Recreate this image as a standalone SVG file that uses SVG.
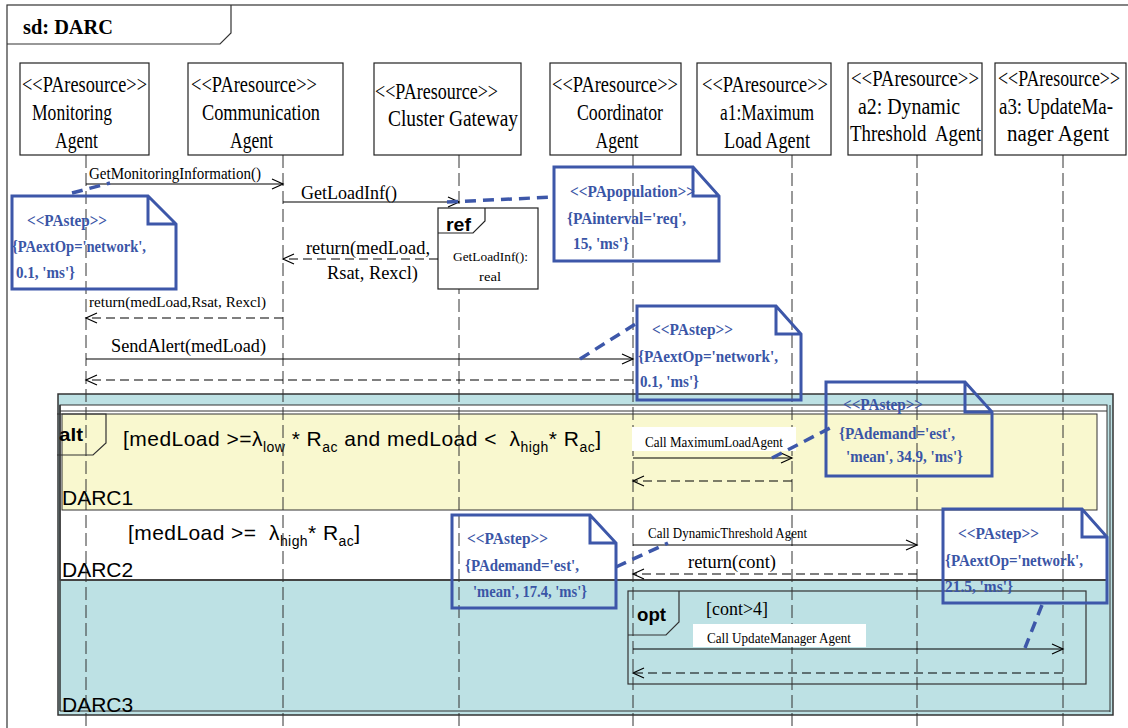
<svg xmlns="http://www.w3.org/2000/svg" width="1128" height="728" viewBox="0 0 1128 728">
<style>
.box{fill:#fff;stroke:#222;stroke-width:1.2}
.lbl{font-family:"Liberation Serif",serif;font-size:23px;fill:#000}
.msg{font-family:"Liberation Serif",serif;fill:#000}
.note{fill:none;stroke:#3d57a9;stroke-width:3}
.nt{font-family:"Liberation Serif",serif;font-weight:bold;font-size:17px;fill:#3a55a6}
.life{stroke:#333;stroke-width:1;stroke-dasharray:13 5;fill:none}
.sync{stroke:#000;stroke-width:1.1;fill:none}
.ret{stroke:#000;stroke-width:1.1;stroke-dasharray:9 5;fill:none}
.link{stroke:#3d57a9;stroke-width:3.5;stroke-dasharray:11 7;fill:none}
.sans{font-family:"Liberation Sans",Arial,sans-serif;fill:#000}
.frm{fill:none;stroke:#333;stroke-width:1.2}
</style>
<defs>
<marker id="arr" markerUnits="userSpaceOnUse" markerWidth="14" markerHeight="12" refX="12" refY="6" orient="auto">
<path d="M1,1 L12,6 L1,11" fill="none" stroke="#000" stroke-width="1.2"/>
</marker>
</defs>
<rect width="1128" height="728" fill="#fff"/>
<g id="frame">
<rect x="7" y="5" width="1128" height="740" class="frm" stroke-width="1.5"/>
<path d="M7,44 L220,44 L231,33 L231,5" class="frm"/>
<text x="23" y="34" font-family="Liberation Serif,serif" font-weight="bold" font-size="20" textLength="90" lengthAdjust="spacingAndGlyphs">sd: DARC</text>
</g>
<g id="alt">
<rect x="58" y="394" width="1055" height="321" fill="#bde1e4" stroke="#333" stroke-width="1.5"/>
<rect x="60" y="405" width="1047" height="175" fill="#fff" stroke="#333" stroke-width="1"/>
<line x1="60" y1="411" x2="1107" y2="411" stroke="#333" stroke-width="1"/>
<line x1="1110" y1="405" x2="1110" y2="712" stroke="#333" stroke-width="1"/>
<line x1="60" y1="711" x2="1110" y2="711" stroke="#333" stroke-width="1"/>
<line x1="60" y1="405" x2="60" y2="711" stroke="#333" stroke-width="1.5"/>
<rect x="62" y="414" width="1035" height="96" fill="#f9f8cf" stroke="#333" stroke-width="1"/>
<line x1="60" y1="580" x2="1107" y2="580" stroke="#444" stroke-width="2"/>
<path d="M57,414 L106,414 L106,443 L93,455 L57,455" fill="none" stroke="#333" stroke-width="1.2"/>
<text x="59" y="441" class="sans" font-weight="bold" font-size="19" textLength="24" lengthAdjust="spacingAndGlyphs">alt</text>
<text x="123" y="446" class="sans" font-size="21" xml:space="preserve" textLength="478">[medLoad &gt;=λ<tspan font-size="14" dy="6">low</tspan><tspan dy="-6"> * R</tspan><tspan font-size="14" dy="6">ac</tspan><tspan dy="-6"> and medLoad &lt;  λ</tspan><tspan font-size="14" dy="6">high</tspan><tspan dy="-6">* R</tspan><tspan font-size="14" dy="6">ac</tspan><tspan dy="-6">]</tspan></text>
<text x="62" y="505" class="sans" font-size="21">DARC1</text>
<text x="128" y="540" class="sans" font-size="21" xml:space="preserve" textLength="232">[medLoad &gt;=  λ<tspan font-size="14" dy="6">high</tspan><tspan dy="-6">* R</tspan><tspan font-size="14" dy="6">ac</tspan><tspan dy="-6">]</tspan></text>
<text x="62" y="577" class="sans" font-size="21">DARC2</text>
<text x="62" y="712" class="sans" font-size="21">DARC3</text>
</g>
<g id="lifelines">
<line x1="86" y1="155" x2="86" y2="728" class="life"/>
<line x1="283" y1="155" x2="283" y2="728" class="life"/>
<line x1="459" y1="155" x2="459" y2="728" class="life"/>
<line x1="633" y1="155" x2="633" y2="728" class="life"/>
<line x1="792" y1="155" x2="792" y2="728" class="life"/>
<line x1="917" y1="155" x2="917" y2="728" class="life"/>
<line x1="1063" y1="155" x2="1063" y2="728" class="life"/>
</g>
<g id="monitoring">
<rect x="20" y="63" width="129" height="92" class="box"/>
<text class="lbl" x="84.5" y="92" text-anchor="middle" textLength="125" lengthAdjust="spacingAndGlyphs">&lt;&lt;PAresource&gt;&gt;</text>
<text class="lbl" x="72" y="120" text-anchor="middle" textLength="80" lengthAdjust="spacingAndGlyphs">Monitoring</text>
<text class="lbl" x="76.5" y="148" text-anchor="middle" textLength="43" lengthAdjust="spacingAndGlyphs">Agent</text>
</g>
<g id="communication">
<rect x="188" y="63" width="155" height="92" class="box"/>
<text class="lbl" x="254" y="92" text-anchor="middle" textLength="126" lengthAdjust="spacingAndGlyphs">&lt;&lt;PAresource&gt;&gt;</text>
<text class="lbl" x="261" y="120" text-anchor="middle" textLength="118" lengthAdjust="spacingAndGlyphs">Communication</text>
<text class="lbl" x="251.5" y="148" text-anchor="middle" textLength="43" lengthAdjust="spacingAndGlyphs">Agent</text>
</g>
<g id="gateway">
<rect x="374" y="63" width="147" height="92" class="box"/>
<text class="lbl" x="436.5" y="99" text-anchor="middle" textLength="123" lengthAdjust="spacingAndGlyphs">&lt;&lt;PAresource&gt;&gt;</text>
<text class="lbl" x="453" y="126" text-anchor="middle" textLength="130" lengthAdjust="spacingAndGlyphs">Cluster Gateway</text>
</g>
<g id="coordinator">
<rect x="550" y="63" width="131" height="92" class="box"/>
<text class="lbl" x="615" y="92" text-anchor="middle" textLength="126" lengthAdjust="spacingAndGlyphs">&lt;&lt;PAresource&gt;&gt;</text>
<text class="lbl" x="620" y="120" text-anchor="middle" textLength="86" lengthAdjust="spacingAndGlyphs">Coordinator</text>
<text class="lbl" x="617" y="148" text-anchor="middle" textLength="43" lengthAdjust="spacingAndGlyphs">Agent</text>
</g>
<g id="a1">
<rect x="697" y="63" width="134" height="92" class="box"/>
<text class="lbl" x="765" y="92" text-anchor="middle" textLength="126" lengthAdjust="spacingAndGlyphs">&lt;&lt;PAresource&gt;&gt;</text>
<text class="lbl" x="767" y="120" text-anchor="middle" textLength="94" lengthAdjust="spacingAndGlyphs">a1:Maximum</text>
<text class="lbl" x="767" y="148" text-anchor="middle" textLength="86" lengthAdjust="spacingAndGlyphs">Load Agent</text>
</g>
<g id="a2">
<rect x="848" y="63" width="134" height="92" class="box"/>
<text class="lbl" x="915" y="86" text-anchor="middle" textLength="128" lengthAdjust="spacingAndGlyphs">&lt;&lt;PAresource&gt;&gt;</text>
<text class="lbl" x="909" y="114" text-anchor="middle" textLength="102" lengthAdjust="spacingAndGlyphs">a2: Dynamic</text>
<text class="lbl" x="915.5" y="141" text-anchor="middle" textLength="131" lengthAdjust="spacingAndGlyphs" xml:space="preserve">Threshold  Agent</text>
</g>
<g id="a3">
<rect x="995" y="63" width="131" height="92" class="box"/>
<text class="lbl" transform="translate(1059,86) scale(0.77,1)" text-anchor="middle" textLength="158.4" lengthAdjust="spacingAndGlyphs">&lt;&lt;PAresource&gt;&gt;</text>
<text class="lbl" transform="translate(1056,114) scale(0.82,1)" text-anchor="middle" textLength="139" lengthAdjust="spacingAndGlyphs">a3: UpdateMa-</text>
<text class="lbl" x="1058" y="141" text-anchor="middle" textLength="102" lengthAdjust="spacingAndGlyphs">nager Agent</text>
</g>
<g id="ref">
<rect x="438" y="208" width="100" height="81" class="box"/>
<path d="M438,233 L473,233 L485,221 L485,208" fill="none" stroke="#222" stroke-width="1.2"/>
<text x="446" y="231" class="sans" font-weight="bold" font-size="19" textLength="25" lengthAdjust="spacingAndGlyphs">ref</text>
<text x="453" y="261" class="msg" font-size="13" textLength="75" lengthAdjust="spacingAndGlyphs">GetLoadInf():</text>
<text x="479" y="281" class="msg" font-size="13" textLength="22" lengthAdjust="spacingAndGlyphs">real</text>
</g>
<g id="opt">
<rect x="628" y="591" width="458" height="93" class="frm"/>
<path d="M628,635 L666,635 L679,622 L679,591" class="frm"/>
<text x="637" y="621" class="sans" font-weight="bold" font-size="19" textLength="29" lengthAdjust="spacingAndGlyphs">opt</text>
<text x="706" y="615" class="msg" font-size="19" textLength="62" lengthAdjust="spacingAndGlyphs">[cont&gt;4]</text>
</g>
<g id="connectors">
<line x1="86" y1="184" x2="283" y2="184" class="sync" marker-end="url(#arr)"/>
<line x1="283" y1="202" x2="459" y2="202" class="sync" marker-end="url(#arr)"/>
<line x1="438" y1="259" x2="283" y2="259" class="ret" marker-end="url(#arr)"/>
<line x1="283" y1="318" x2="86" y2="318" class="ret" marker-end="url(#arr)"/>
<line x1="86" y1="359" x2="633" y2="359" class="sync" marker-end="url(#arr)"/>
<line x1="633" y1="380" x2="86" y2="380" class="ret" marker-end="url(#arr)"/>
<rect x="632" y="427" width="164" height="24" fill="#fff"/>
<line x1="633" y1="458" x2="792" y2="458" class="sync" marker-end="url(#arr)"/>
<line x1="792" y1="481" x2="633" y2="481" class="ret" marker-end="url(#arr)"/>
<line x1="633" y1="545" x2="917" y2="545" class="sync" marker-end="url(#arr)"/>
<line x1="917" y1="574" x2="633" y2="574" class="ret" marker-end="url(#arr)"/>
<rect x="693" y="624" width="173" height="23" fill="#fff"/>
<line x1="633" y1="649" x2="1063" y2="649" class="sync" marker-end="url(#arr)"/>
<line x1="1063" y1="673" x2="633" y2="673" class="ret" marker-end="url(#arr)"/>
<text x="89" y="179" class="msg" font-size="16" textLength="172" lengthAdjust="spacingAndGlyphs">GetMonitoringInformation()</text>
<text x="301" y="199" class="msg" font-size="19" textLength="96" lengthAdjust="spacingAndGlyphs">GetLoadInf()</text>
<text x="306" y="254" class="msg" font-size="19" textLength="124" lengthAdjust="spacingAndGlyphs">return(medLoad,</text>
<text x="327" y="279" class="msg" font-size="19" textLength="91" lengthAdjust="spacingAndGlyphs">Rsat, Rexcl)</text>
<text x="89" y="307" class="msg" font-size="15" textLength="177" lengthAdjust="spacingAndGlyphs">return(medLoad,Rsat, Rexcl)</text>
<text x="111" y="352" class="msg" font-size="19" textLength="155" lengthAdjust="spacingAndGlyphs">SendAlert(medLoad)</text>
<text x="645" y="447" class="msg" font-size="14" textLength="138" lengthAdjust="spacingAndGlyphs">Call MaximumLoadAgent</text>
<text x="648" y="538" class="msg" font-size="14" textLength="159" lengthAdjust="spacingAndGlyphs">Call DynamicThreshold Agent</text>
<text x="688" y="568" class="msg" font-size="19" textLength="88" lengthAdjust="spacingAndGlyphs">return(cont)</text>
<text x="707" y="643" class="msg" font-size="14" textLength="144" lengthAdjust="spacingAndGlyphs">Call UpdateManager Agent</text>
<line x1="72" y1="193" x2="110" y2="183" class="link"/>
<line x1="447" y1="202" x2="554" y2="197" class="link"/>
<line x1="580" y1="359" x2="637" y2="323" class="link"/>
<line x1="772" y1="458" x2="832" y2="427" class="link"/>
<line x1="616" y1="567" x2="668" y2="543" class="link"/>
<line x1="1042" y1="605" x2="1025" y2="648" class="link"/>
</g>
<g id="note1">
<path d="M12,196 L148,196 L176,224 L176,289 L12,289 Z M148,196 L148,224 L176,224" class="note"/>
<text class="nt" x="27" y="226" textLength="80" lengthAdjust="spacingAndGlyphs">&lt;&lt;PAstep&gt;&gt;</text>
<text class="nt" x="12" y="252" textLength="134" lengthAdjust="spacingAndGlyphs">{PAextOp='network',</text>
<text class="nt" x="16" y="278" textLength="59" lengthAdjust="spacingAndGlyphs">0.1, 'ms'}</text>
</g>
<g id="note_population">
<path d="M554,167 L693,167 L719,196 L719,261 L554,261 Z M693,167 L693,196 L719,196" class="note"/>
<text class="nt" x="570" y="197" textLength="125" lengthAdjust="spacingAndGlyphs">&lt;&lt;PApopulation&gt;&gt;</text>
<text class="nt" x="567" y="224" textLength="119" lengthAdjust="spacingAndGlyphs">{PAinterval='req',</text>
<text class="nt" x="573" y="249" textLength="56" lengthAdjust="spacingAndGlyphs">15, 'ms'}</text>
</g>
<g id="note2">
<path d="M637,306 L776,306 L801,334 L801,400 L637,400 Z M776,306 L776,334 L801,334" class="note"/>
<text class="nt" x="652" y="335" textLength="81" lengthAdjust="spacingAndGlyphs">&lt;&lt;PAstep&gt;&gt;</text>
<text class="nt" x="638" y="362" textLength="140" lengthAdjust="spacingAndGlyphs">{PAextOp='network',</text>
<text class="nt" x="640" y="387" textLength="59" lengthAdjust="spacingAndGlyphs">0.1, 'ms'}</text>
</g>
<g id="note3">
<path d="M826,382 L965,382 L992,412 L992,476 L826,476 Z M965,382 L965,412 L992,412" class="note"/>
<text class="nt" x="843" y="410" textLength="80" lengthAdjust="spacingAndGlyphs">&lt;&lt;PAstep&gt;&gt;</text>
<text class="nt" x="839" y="439" textLength="116" lengthAdjust="spacingAndGlyphs">{PAdemand='est',</text>
<text class="nt" x="846" y="462" textLength="117" lengthAdjust="spacingAndGlyphs">'mean', 34.9, 'ms'}</text>
</g>
<g id="note4">
<path d="M452,515 L590,515 L616,543 L616,608 L452,608 Z M590,515 L590,543 L616,543" class="note"/>
<text class="nt" x="467" y="544" textLength="81" lengthAdjust="spacingAndGlyphs">&lt;&lt;PAstep&gt;&gt;</text>
<text class="nt" x="465" y="571" textLength="114" lengthAdjust="spacingAndGlyphs">{PAdemand='est',</text>
<text class="nt" x="473" y="597" textLength="114" lengthAdjust="spacingAndGlyphs">'mean', 17.4, 'ms'}</text>
</g>
<g id="note5">
<path d="M943,509 L1082,509 L1107,537 L1107,603 L943,603 Z M1082,509 L1082,537 L1107,537" class="note"/>
<text class="nt" x="958" y="539" textLength="81" lengthAdjust="spacingAndGlyphs">&lt;&lt;PAstep&gt;&gt;</text>
<text class="nt" x="945" y="566" textLength="138" lengthAdjust="spacingAndGlyphs">{PAextOp='network',</text>
<text class="nt" x="945" y="592" textLength="68" lengthAdjust="spacingAndGlyphs">21.5, 'ms'}</text>
</g>
</svg>
